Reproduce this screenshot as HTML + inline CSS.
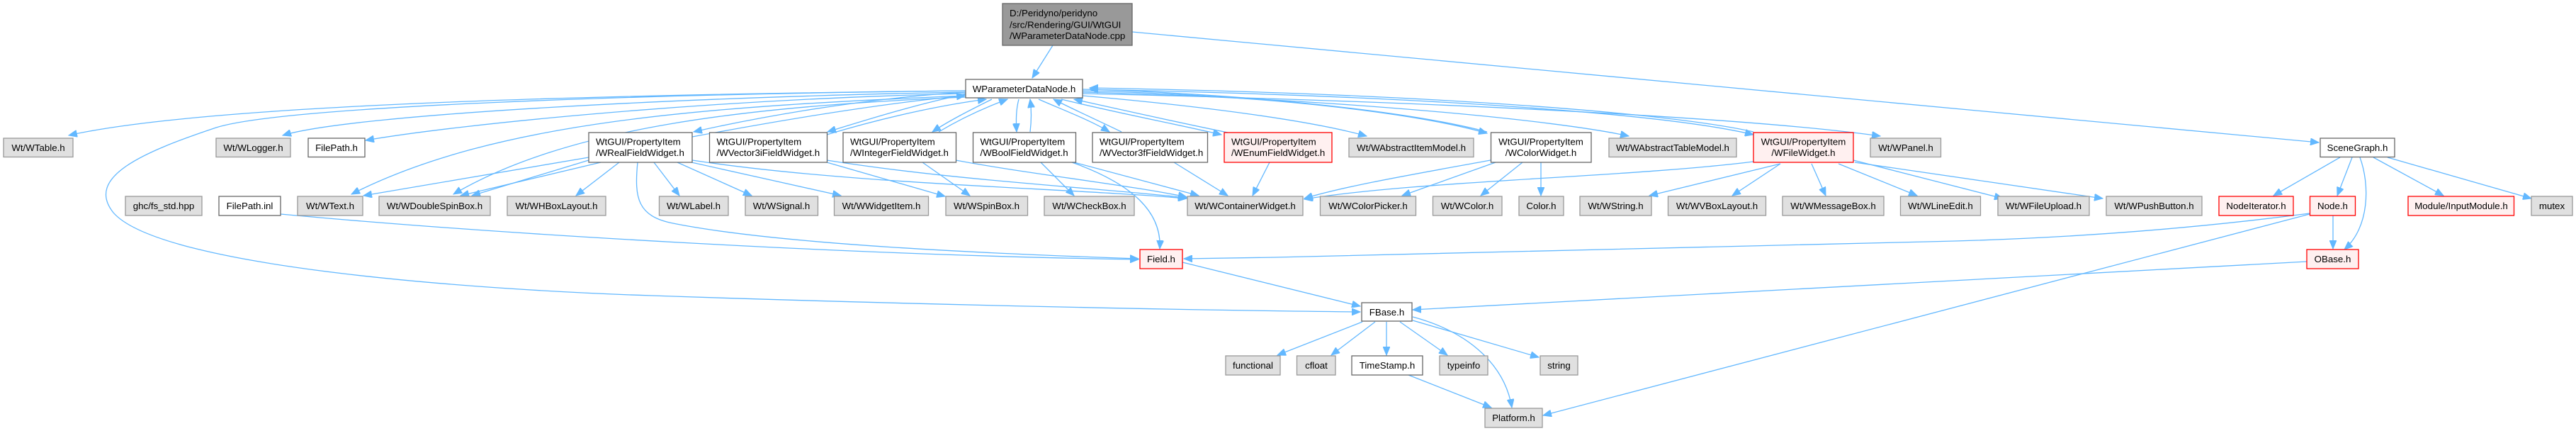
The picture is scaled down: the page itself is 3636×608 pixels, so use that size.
<!DOCTYPE html>
<html><head><meta charset="utf-8"><style>
html,body{margin:0;padding:0;background:#fff;}
svg{display:block;}
text{font-family:"Liberation Sans",sans-serif;font-size:13.3px;fill:#000;}
.g{fill:#e0e0e0;stroke:#999;stroke-width:1.3}
.w{fill:#fff;stroke:#666;stroke-width:1.3}
.r{fill:#fff0f0;stroke:#ff0000;stroke-width:1.3}
.c{fill:#999;stroke:#666;stroke-width:1.3}
.e{fill:none;stroke:#63b8ff;stroke-width:1.3;marker-end:url(#a)}
</style></head><body>
<svg width="3636" height="608" viewBox="0 0 3636 608" xmlns="http://www.w3.org/2000/svg">
<defs><marker id="a" markerUnits="userSpaceOnUse" markerWidth="13" markerHeight="10" refX="12" refY="5" orient="auto"><path d="M0,0 L12,5 L0,10 z" fill="#63b8ff" stroke="#63b8ff"/></marker></defs>
<g>
<path class="e" d="M1486,64 L1457,110"/>
<path class="e" d="M1598,45 L3273,201"/>
<path class="e" d="M1363,128 C900,133 300,145 97,191"/>
<path class="e" d="M1363,130 C1000,136 500,160 399,191"/>
<path class="e" d="M1363,132 C1000,140 650,175 516,198"/>
<path class="e" d="M1363,135 C1000,150 700,170 496,274"/>
<path class="e" d="M1363,137 C1050,150 800,180 640,274"/>
<path class="e" d="M1363,128 C900,133 400,150 305,180 C200,215 120,250 160,300 C230,380 700,410 920,417 C1300,430 1700,438 1920,440"/>
<path class="e" d="M1363,130 C1200,140 1050,170 979,186"/>
<path class="e" d="M977,193 C1100,170 1250,145 1362,135"/>
<path class="e" d="M1363,133 C1300,145 1220,170 1168,186"/>
<path class="e" d="M1167,190 C1250,165 1330,148 1392,140"/>
<path class="e" d="M1400,140 C1370,155 1340,170 1316,186"/>
<path class="e" d="M1325,186 C1360,165 1395,150 1422,140"/>
<path class="e" d="M1438,140 C1434,155 1434,170 1435,186"/>
<path class="e" d="M1454,186 C1456,170 1456,155 1454,140"/>
<path class="e" d="M1466,140 C1500,155 1540,170 1566,186"/>
<path class="e" d="M1583,186 C1550,170 1510,152 1487,140"/>
<path class="e" d="M1498,140 C1580,160 1660,175 1724,190"/>
<path class="e" d="M1733,187 C1650,170 1570,152 1516,140"/>
<path class="e" d="M1528,135 C1700,150 1850,170 1929,192"/>
<path class="e" d="M1528,128 C1800,135 2000,160 2099,188"/>
<path class="e" d="M2099,186 C2000,160 1800,135 1538,126"/>
<path class="e" d="M1528,130 C1900,140 2200,170 2299,192"/>
<path class="e" d="M1528,126 C2000,135 2350,160 2475,190"/>
<path class="e" d="M2475,186 C2350,158 2000,132 1538,124"/>
<path class="e" d="M1528,132 C2100,145 2500,170 2654,192"/>
<path class="e" d="M831,222 L513,276"/>
<path class="e" d="M831,226 L666,276"/>
<path class="e" d="M848,229 L650,276"/>
<path class="e" d="M874,229 L813,276"/>
<path class="e" d="M923,229 L959,276"/>
<path class="e" d="M956,229 L1061,276"/>
<path class="e" d="M976,229 L1187,276"/>
<path class="e" d="M977,226 C1200,260 1500,265 1675,280"/>
<path class="e" d="M900,229 C895,280 900,305 950,315 C1100,345 1400,358 1607,365"/>
<path class="e" d="M396,302 C700,330 1200,360 1607,366"/>
<path class="e" d="M1167,229 L1334,277"/>
<path class="e" d="M1167,226 C1350,255 1550,265 1675,279"/>
<path class="e" d="M1302,229 L1369,276"/>
<path class="e" d="M1349,226 C1450,245 1600,262 1675,278"/>
<path class="e" d="M1469,229 L1516,276"/>
<path class="e" d="M1516,229 L1692,276"/>
<path class="e" d="M1513,229 C1600,260 1640,300 1637,351"/>
<path class="e" d="M1657,229 L1733,276"/>
<path class="e" d="M1792,229 L1768,276"/>
<path class="e" d="M2104,226 C2000,245 1900,262 1841,280"/>
<path class="e" d="M2111,229 L1979,276"/>
<path class="e" d="M2149,229 L2090,276"/>
<path class="e" d="M2175,229 L2175,276"/>
<path class="e" d="M2475,228 C2300,250 2000,255 1841,281"/>
<path class="e" d="M2513,231 L2328,276"/>
<path class="e" d="M2513,231 L2445,276"/>
<path class="e" d="M2557,231 L2577,276"/>
<path class="e" d="M2595,231 L2706,276"/>
<path class="e" d="M2616,226 L2827,280"/>
<path class="e" d="M2618,229 L2968,280"/>
<path class="e" d="M1669,370 L1920,432"/>
<path class="e" d="M3260,301 Q3000,335 2720,341 L1800,363 L1671,365"/>
<path class="e" d="M3260,302 L2178,586"/>
<path class="e" d="M3256,369 L1994,437"/>
<path class="e" d="M3303,222 L3209,276"/>
<path class="e" d="M3320,222 L3299,276"/>
<path class="e" d="M3331,222 C3345,260 3345,320 3309,352"/>
<path class="e" d="M3350,222 L3449,276"/>
<path class="e" d="M3370,222 L3573,280"/>
<path class="e" d="M3293,304 L3293,351"/>
<path class="e" d="M1923,454 L1803,501"/>
<path class="e" d="M1941,454 L1879,501"/>
<path class="e" d="M1957,454 L1957,501"/>
<path class="e" d="M1976,454 L2043,501"/>
<path class="e" d="M1994,452 L2172,504"/>
<path class="e" d="M1994,447 C2080,470 2125,520 2134,575"/>
<path class="e" d="M1988,529 L2105,575"/>
</g>
<g>
<!-- cpp -->
<rect class="c" x="1415" y="5" width="183" height="59"/>
<text x="1425" y="23">D:/Peridyno/peridyno</text>
<text x="1425" y="39.5">/src/Rendering/GUI/WtGUI</text>
<text x="1425" y="55">/WParameterDataNode.cpp</text>
<rect class="w" x="1363" y="112" width="165" height="26"/>
<text x="1445.5" y="130" text-anchor="middle">WParameterDataNode.h</text>

<!-- row1 singles -->
<rect class="g" x="5" y="195" width="98" height="26.5"/><text x="54" y="213" text-anchor="middle">Wt/WTable.h</text>
<rect class="g" x="305" y="195" width="105" height="26.5"/><text x="357.5" y="213" text-anchor="middle">Wt/WLogger.h</text>
<rect class="w" x="435" y="195" width="80" height="26.5"/><text x="475" y="213" text-anchor="middle">FilePath.h</text>
<rect class="g" x="1904" y="195" width="176" height="26.5"/><text x="1992" y="213" text-anchor="middle">Wt/WAbstractItemModel.h</text>
<rect class="g" x="2271" y="195" width="180" height="26.5"/><text x="2361" y="213" text-anchor="middle">Wt/WAbstractTableModel.h</text>
<rect class="g" x="2640" y="195" width="99.5" height="26.5"/><text x="2690" y="213" text-anchor="middle">Wt/WPanel.h</text>
<rect class="w" x="3275" y="195" width="105" height="26.5"/><text x="3327.5" y="213" text-anchor="middle">SceneGraph.h</text>

<!-- row1 doubles -->
<rect class="w" x="831" y="187" width="146" height="42"/><text x="841" y="204.5">WtGUI/PropertyItem</text><text x="841" y="220">/WRealFieldWidget.h</text>
<rect class="w" x="1001.5" y="187" width="166" height="42"/><text x="1011.5" y="204.5">WtGUI/PropertyItem</text><text x="1011.5" y="220">/WVector3iFieldWidget.h</text>
<rect class="w" x="1190" y="187" width="159.5" height="42"/><text x="1200" y="204.5">WtGUI/PropertyItem</text><text x="1200" y="220">/WIntegerFieldWidget.h</text>
<rect class="w" x="1373.5" y="187" width="145" height="42"/><text x="1383.5" y="204.5">WtGUI/PropertyItem</text><text x="1383.5" y="220">/WBoolFieldWidget.h</text>
<rect class="w" x="1542" y="187" width="162.5" height="42"/><text x="1552" y="204.5">WtGUI/PropertyItem</text><text x="1552" y="220">/WVector3fFieldWidget.h</text>
<rect class="r" x="1728" y="187" width="152" height="42"/><text x="1738" y="204.5">WtGUI/PropertyItem</text><text x="1738" y="220">/WEnumFieldWidget.h</text>
<rect class="w" x="2104.5" y="187" width="141.5" height="42"/><text x="2175" y="204.5" text-anchor="middle">WtGUI/PropertyItem</text><text x="2175" y="220" text-anchor="middle">/WColorWidget.h</text>
<rect class="r" x="2475" y="187" width="141" height="42"/><text x="2545.5" y="204.5" text-anchor="middle">WtGUI/PropertyItem</text><text x="2545.5" y="220" text-anchor="middle">/WFileWidget.h</text>

<!-- row2 -->
<rect class="g" x="177" y="277" width="108" height="27"/><text x="231" y="295" text-anchor="middle">ghc/fs_std.hpp</text>
<rect class="w" x="309" y="277" width="87" height="27"/><text x="352.5" y="295" text-anchor="middle">FilePath.inl</text>
<rect class="g" x="420" y="277" width="92" height="27"/><text x="466" y="295" text-anchor="middle">Wt/WText.h</text>
<rect class="g" x="535" y="277" width="157" height="27"/><text x="613.5" y="295" text-anchor="middle">Wt/WDoubleSpinBox.h</text>
<rect class="g" x="716" y="277" width="139" height="27"/><text x="785.5" y="295" text-anchor="middle">Wt/WHBoxLayout.h</text>
<rect class="g" x="930.5" y="277" width="97.5" height="27"/><text x="979" y="295" text-anchor="middle">Wt/WLabel.h</text>
<rect class="g" x="1052" y="277" width="102.5" height="27"/><text x="1103" y="295" text-anchor="middle">Wt/WSignal.h</text>
<rect class="g" x="1177.5" y="277" width="133" height="27"/><text x="1244" y="295" text-anchor="middle">Wt/WWidgetItem.h</text>
<rect class="g" x="1335" y="277" width="115.5" height="27"/><text x="1392.5" y="295" text-anchor="middle">Wt/WSpinBox.h</text>
<rect class="g" x="1474" y="277" width="127" height="27"/><text x="1537.5" y="295" text-anchor="middle">Wt/WCheckBox.h</text>
<rect class="g" x="1676" y="277" width="163" height="27"/><text x="1757.5" y="295" text-anchor="middle">Wt/WContainerWidget.h</text>
<rect class="g" x="1863.5" y="277" width="135" height="27"/><text x="1931" y="295" text-anchor="middle">Wt/WColorPicker.h</text>
<rect class="g" x="2022.5" y="277" width="97.5" height="27"/><text x="2071" y="295" text-anchor="middle">Wt/WColor.h</text>
<rect class="g" x="2144" y="277" width="63" height="27"/><text x="2175.5" y="295" text-anchor="middle">Color.h</text>
<rect class="g" x="2230" y="277" width="101" height="27"/><text x="2280.5" y="295" text-anchor="middle">Wt/WString.h</text>
<rect class="g" x="2354.5" y="277" width="138" height="27"/><text x="2423.5" y="295" text-anchor="middle">Wt/WVBoxLayout.h</text>
<rect class="g" x="2516" y="277" width="143" height="27"/><text x="2587.5" y="295" text-anchor="middle">Wt/WMessageBox.h</text>
<rect class="g" x="2682.5" y="277" width="113" height="27"/><text x="2739" y="295" text-anchor="middle">Wt/WLineEdit.h</text>
<rect class="g" x="2820" y="277" width="129" height="27"/><text x="2884.5" y="295" text-anchor="middle">Wt/WFileUpload.h</text>
<rect class="g" x="2973" y="277" width="135" height="27"/><text x="3040.5" y="295" text-anchor="middle">Wt/WPushButton.h</text>
<rect class="r" x="3132" y="277" width="105" height="27"/><text x="3184.5" y="295" text-anchor="middle">NodeIterator.h</text>
<rect class="r" x="3260.5" y="277" width="64" height="27"/><text x="3292.5" y="295" text-anchor="middle">Node.h</text>
<rect class="r" x="3399" y="277" width="149.5" height="27"/><text x="3474" y="295" text-anchor="middle">Module/InputModule.h</text>
<rect class="g" x="3573" y="277" width="58" height="27"/><text x="3602" y="295" text-anchor="middle">mutex</text>

<!-- row3 -->
<rect class="r" x="1609" y="352" width="60" height="27"/><text x="1639" y="370" text-anchor="middle">Field.h</text>
<rect class="r" x="3256" y="352" width="73" height="27"/><text x="3292.5" y="370" text-anchor="middle">OBase.h</text>
<rect class="w" x="1922" y="427" width="71" height="26"/><text x="1957.5" y="445" text-anchor="middle">FBase.h</text>

<!-- row4 -->
<rect class="g" x="1730" y="502" width="77" height="27"/><text x="1768.5" y="520" text-anchor="middle">functional</text>
<rect class="g" x="1830.5" y="502" width="54.5" height="27"/><text x="1858" y="520" text-anchor="middle">cfloat</text>
<rect class="w" x="1908" y="502" width="100" height="27"/><text x="1958" y="520" text-anchor="middle">TimeStamp.h</text>
<rect class="g" x="2032" y="502" width="68" height="27"/><text x="2066" y="520" text-anchor="middle">typeinfo</text>
<rect class="g" x="2174" y="502" width="53" height="27"/><text x="2200.5" y="520" text-anchor="middle">string</text>
<rect class="g" x="2096" y="576" width="81" height="27"/><text x="2136.5" y="594" text-anchor="middle">Platform.h</text>
</g>
</svg>
</body></html>
